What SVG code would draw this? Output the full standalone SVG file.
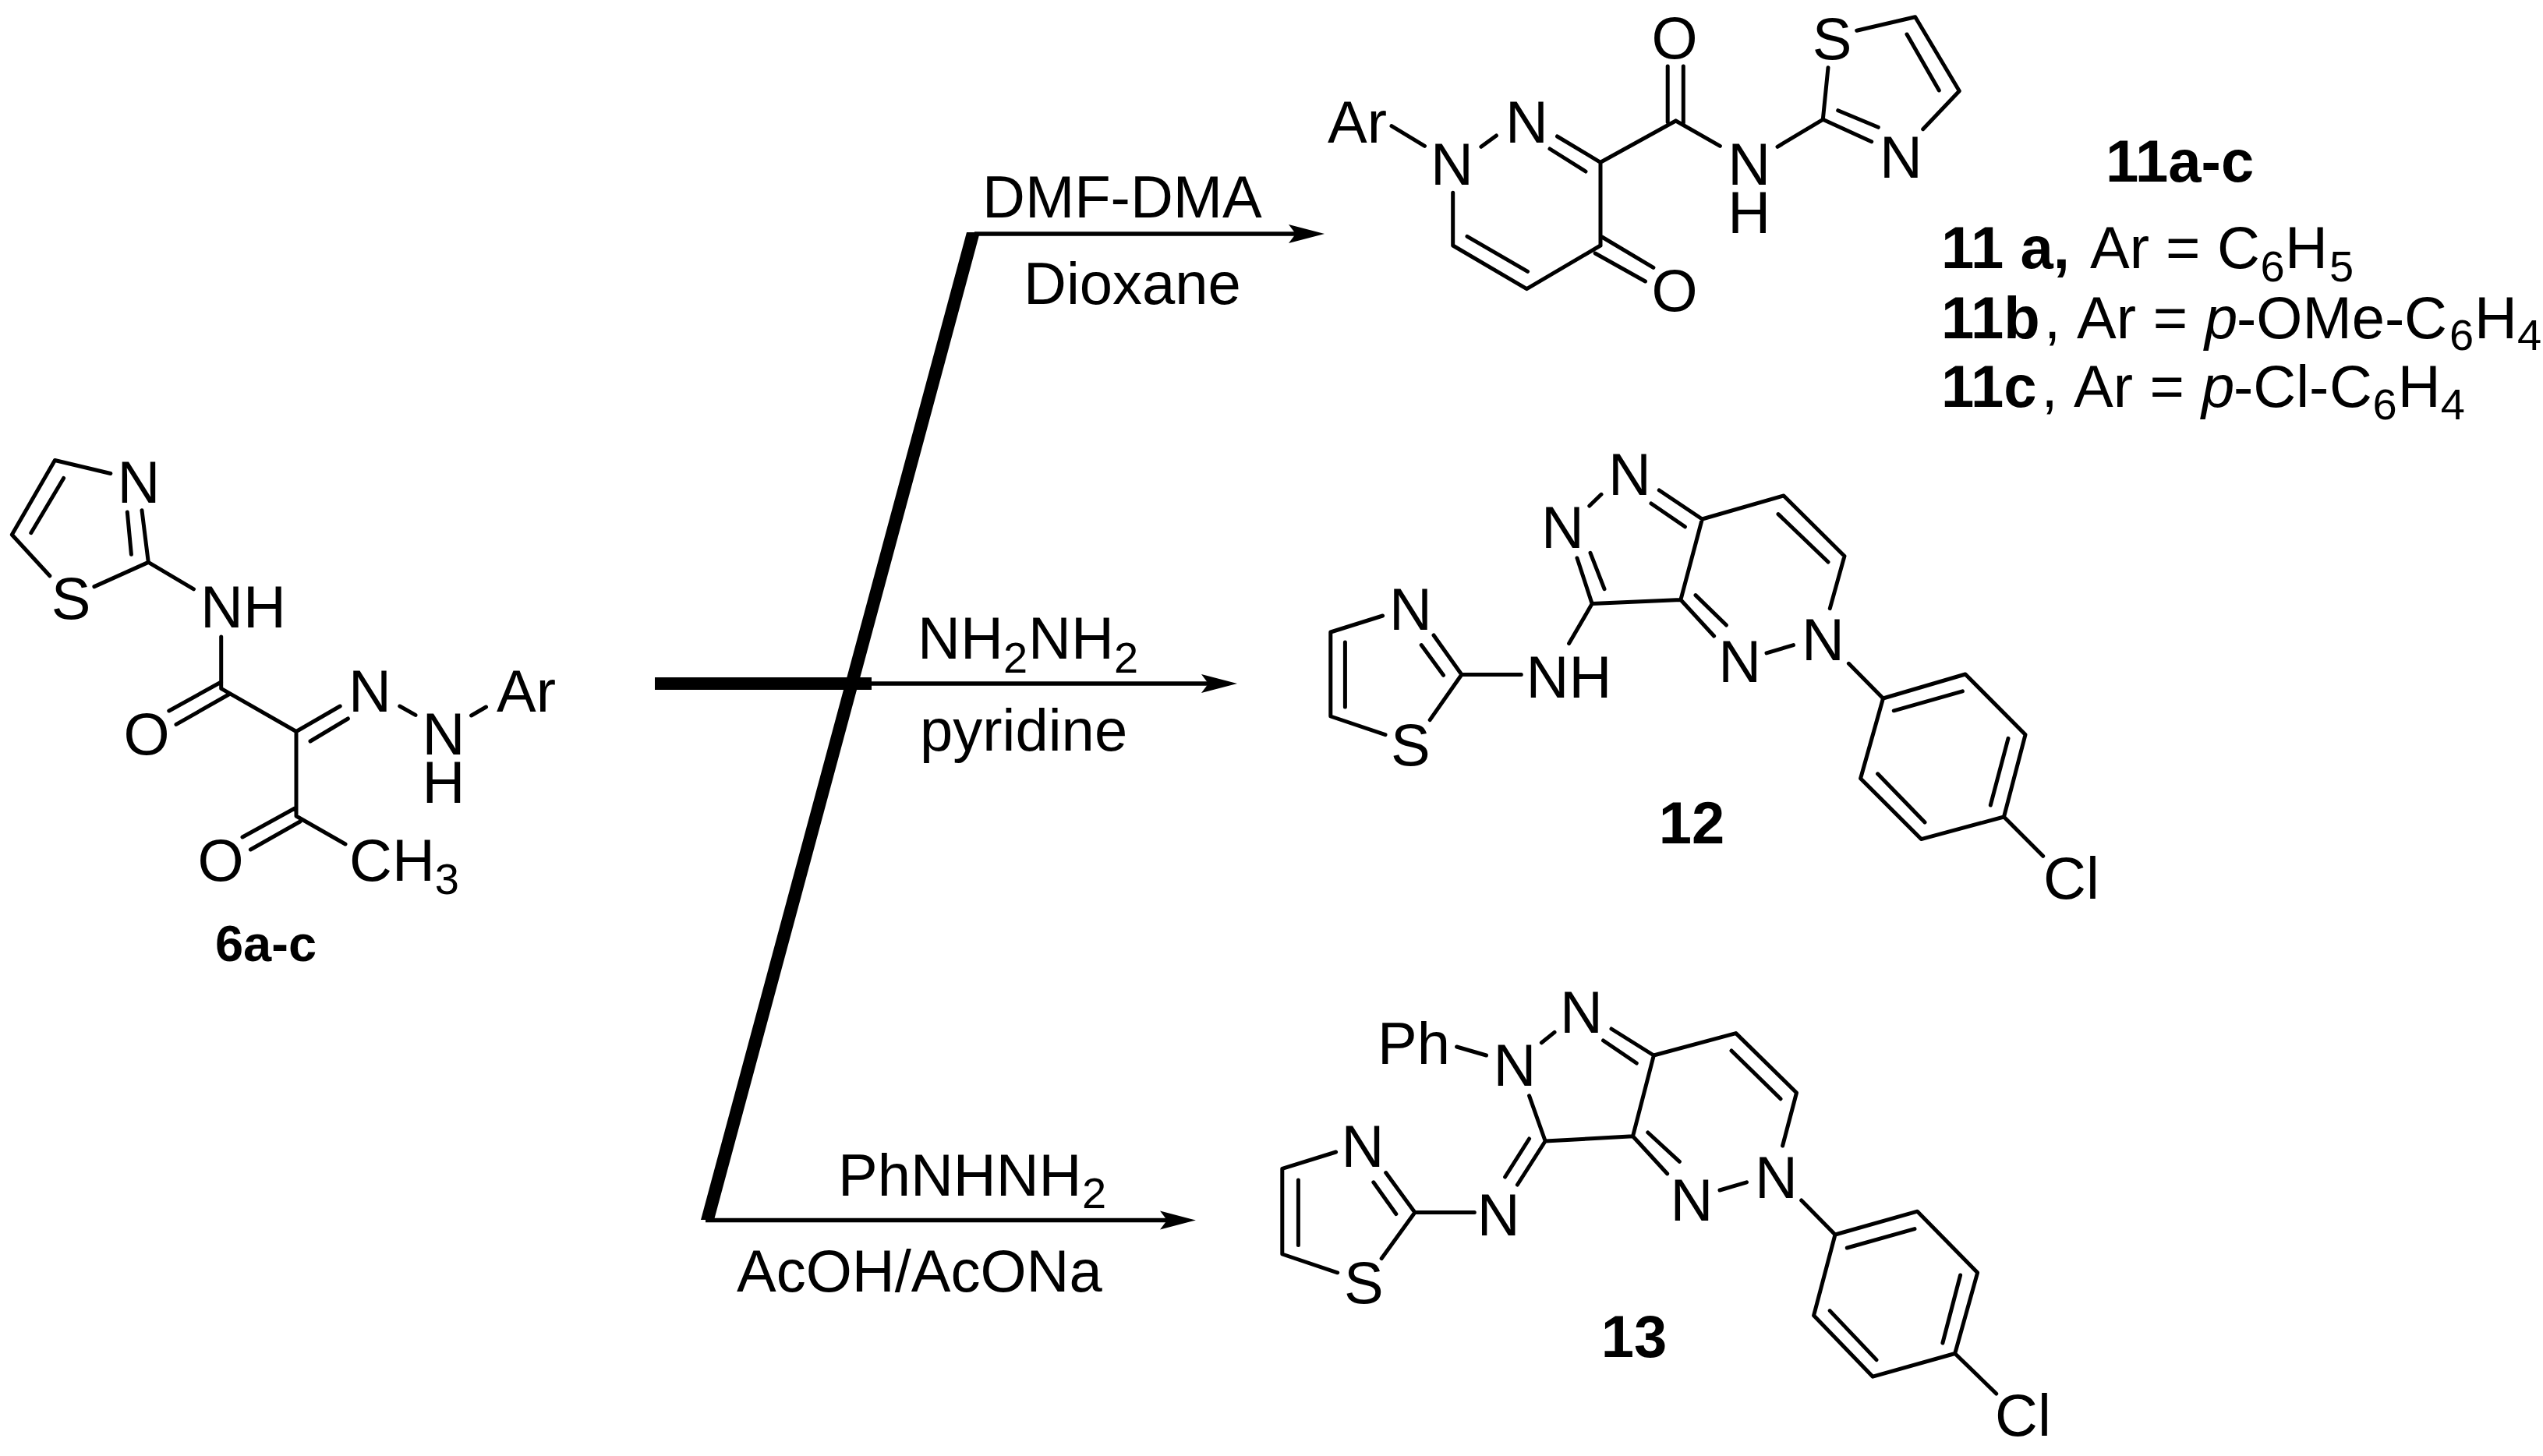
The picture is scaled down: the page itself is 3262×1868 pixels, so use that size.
<svg xmlns="http://www.w3.org/2000/svg" width="3262" height="1868" viewBox="0 0 3262 1868">
<style>
.b{fill:none;stroke:#000;stroke-width:5;stroke-linecap:round;stroke-linejoin:round}
.r{stroke:#000;stroke-width:5.5}
text{font-family:"Liberation Sans",Arial,sans-serif;font-size:76px;fill:#000}
.m{text-anchor:middle}
.h{font-weight:bold}
.l{font-size:65px;font-weight:bold;text-anchor:middle}
.s{font-size:56px}
.i{font-style:italic}
</style>
<defs>
<marker id="arrow" markerUnits="userSpaceOnUse" markerWidth="48" markerHeight="28" refX="26" refY="14" orient="auto"><path d="M46 14L0 2L9 14L0 26Z"/></marker>
</defs>
<rect width="3262" height="1868" fill="#fff"/>
<g id="connectors">
<polygon points="1240,298 1257,298 916,1565 899,1565"/>
<rect x="840" y="869" width="278" height="16"/>
<line class="r" x1="1250" y1="300" x2="1679" y2="300" marker-end="url(#arrow)"/>
<line class="r" x1="1110" y1="877" x2="1567" y2="877" marker-end="url(#arrow)"/>
<line class="r" x1="905" y1="1565.5" x2="1514" y2="1565.5" marker-end="url(#arrow)"/>
</g>
<g id="reagents">
<text x="1260" y="279">DMF-DMA</text>
<text x="1313" y="390">Dioxane</text>
<text y="845"><tspan x="1177">NH</tspan><tspan class="s" x="1287" y="863">2</tspan><tspan x="1319" y="845">NH</tspan><tspan class="s" x="1429" y="863">2</tspan></text>
<text x="1180" y="962.5">pyridine</text>
<text y="1533.5"><tspan x="1075">PhNHNH</tspan><tspan class="s" x="1388" y="1550">2</tspan></text>
<text x="945" y="1657">AcOH/AcONa</text>
</g>
<g id="compound-6">
<path class="b" d="M141.8 607.5L70.4 590.5L15.3 686L63.8 738.8M81.6 613.5L39.8 683.7M182 654.8L190.3 721.4L120.9 752.6M163.3 657L168.4 711.3M190.3 721.4L248.5 755.8M283.7 816.9V883.4L380 938.5M283.7 875L216.8 912M293.4 891L226 929.4M380 938.5L436.2 906M398 951L446.4 922M512.8 906L533 917.4M604.6 918L623.5 907M380 938.5V1047L443 1083M380 1036L311 1074M385 1054L321.4 1090"/>
<text class="m" x="178" y="645">N</text><text class="m" x="91" y="794">S</text>
<text x="257" y="805">NH</text><text class="m" x="188" y="968">O</text>
<text class="m" x="474.5" y="913">N</text><text class="m" x="569" y="968">N<tspan x="569" y="1030">H</tspan></text>
<text x="637" y="913">Ar</text><text class="m" x="283" y="1130">O</text>
<text x="448" y="1130">CH<tspan class="s" y="1147">3</tspan></text>
<text class="l" x="341" y="1233">6a-c</text>
</g>
<g id="compound-11">
<path class="b" d="M1785 161.7L1827.5 187.3M1899.9 188.3L1919.4 174M1997.5 175L2053 208.3L2149.6 155M1988 191L2034 220M2053 208.3V315M2139.2 85V156.7M2159.3 85V158M2149.6 155L2206.4 187.3M2280 188.3L2338.3 153.3L2345 86.7M2381.7 39.3L2456.7 21.7L2513.3 116.7L2466.7 165.7M2446 44L2487.3 116M2338.3 153.3L2400.7 181.7M2357.7 141.7L2409.3 163.3M1863.7 247.3V315L1958.4 370.7L2053 315M1882 303.3L1959.6 348.3M2054.9 304L2120.9 343.3M2046.2 325L2110.5 361"/>
<text x="1703" y="183">Ar</text><text class="m" x="1862.5" y="237">N</text><text class="m" x="1958.4" y="183">N</text>
<text class="m" x="2148" y="75">O</text><text class="m" x="2243.7" y="237">N<tspan x="2243.7" y="299">H</tspan></text>
<text class="m" x="2350" y="75.5">S</text><text class="m" x="2438.5" y="227.5">N</text><text class="m" x="2148" y="399">O</text>
<text class="h" x="2701" y="233">11a-c</text>
</g>
<g id="legend-11">
<text y="343.5"><tspan class="h" x="2490">11 a,</tspan><tspan x="2681">Ar</tspan><tspan x="2778">=</tspan><tspan x="2844">C</tspan><tspan class="s" x="2899.5" y="361">6</tspan><tspan x="2931" y="343.5">H</tspan><tspan class="s" x="2988" y="361">5</tspan></text>
<text y="433.5"><tspan class="h" x="2490">11b</tspan><tspan x="2622">,</tspan><tspan x="2664">Ar</tspan><tspan x="2761.7">=</tspan><tspan class="i" x="2828">p</tspan><tspan x="2869">-OMe-</tspan><tspan x="3084">C</tspan><tspan class="s" x="3142" y="449">6</tspan><tspan x="3174" y="433.5">H</tspan><tspan class="s" x="3229" y="449">4</tspan></text>
<text y="521.5"><tspan class="h" x="2490">11c</tspan><tspan x="2618.5">,</tspan><tspan x="2660">Ar</tspan><tspan x="2757.4">=</tspan><tspan class="i" x="2824">p</tspan><tspan x="2865">-Cl-</tspan><tspan x="2988">C</tspan><tspan class="s" x="3043.5" y="538">6</tspan><tspan x="3075.7" y="521.5">H</tspan><tspan class="s" x="3130.7" y="538">4</tspan></text>
</g>
<g id="compound-12">
<path class="b" d="M2038.8 649L2054 634.3M2128.3 629L2183.4 666L2288 636L2366 713.4L2347.3 780.6M2118 646L2161.4 675.8M2281 659.6L2345 721M2183.4 666L2155.9 769.5L2198.6 816M2175 763.6L2214.4 802M2155.9 769.5L2042.2 774.6L2023 716M2058 755.7L2040 709.4M2042.2 774.6L2012.6 825.6M2266 837.9L2300.5 827.6M1874.9 865.5H1951.3M1874.9 865.5L1839 815M1851.5 866.3L1823.2 827.6M1773.6 790L1706.8 811V919L1777 942.6M1725.4 824V907M1874.9 865.5L1834.2 923.6M2371.4 851.3L2415.5 896L2521 865L2598 942.6L2570.5 1048L2464.4 1076.6L2386.6 998.7L2415.5 896M2429.3 911.8L2517.4 886.9M2576 947.4L2553.3 1033M2469 1054.9L2408.6 992.8M2570.5 1048L2620.7 1098.3"/>
<text class="m" x="2090.4" y="635">N</text><text class="m" x="2004.4" y="703">N</text><text class="m" x="2338.4" y="847">N</text><text class="m" x="2231.6" y="875">N</text>
<text x="1957.5" y="895">NH</text><text class="m" x="1809.4" y="808">N</text><text class="m" x="1809.4" y="982">S</text><text x="2621" y="1153">Cl</text>
<text class="h m" x="2170" y="1082">12</text>
</g>
<g id="compound-13">
<path class="b" d="M1868.6 1343L1906.5 1354M1977.4 1337.8L1994 1324.4M2067 1320L2121.3 1354L2226.7 1325.6L2304.5 1402L2286.6 1470M2056.6 1335L2099.3 1364M2221 1348L2284 1409.8M2121.3 1354L2094.5 1457.8L2138.6 1505.8M2113.8 1453L2154.4 1490.4M2094.5 1457.8L1982.2 1464L1961.6 1405.8M1982.2 1464L1946.4 1520M1961.6 1461L1930.6 1510M2206 1527L2240.5 1516.8M1814.9 1555.5H1891.3M1814.9 1555.5L1777.7 1504.6M1790.8 1557.5L1761.8 1516.8M1713.6 1478L1644.8 1499.3V1609L1715.7 1632.8M1665.4 1514V1597.4M1814.9 1555.5L1772.2 1614.5M2310.7 1540L2354 1584L2459.5 1554.2L2536.6 1632.8L2507.7 1736.5L2402.3 1766.2L2326.6 1687.7L2354 1584M2369.3 1601L2456 1576.6M2514.6 1636L2491.9 1723M2407 1744.6L2347.2 1681.6M2507.7 1736.5L2560.7 1788"/>
<text class="m" x="2028.4" y="1325">N</text><text class="m" x="1943" y="1393">N</text><text x="1767" y="1365">Ph</text>
<text class="m" x="2278.4" y="1537">N</text><text class="m" x="2170" y="1566">N</text><text class="m" x="1922.3" y="1585">N</text>
<text class="m" x="1748" y="1497">N</text><text class="m" x="1749.4" y="1672">S</text><text x="2559" y="1842">Cl</text>
<text class="h m" x="2096" y="1741">13</text>
</g>
</svg>
